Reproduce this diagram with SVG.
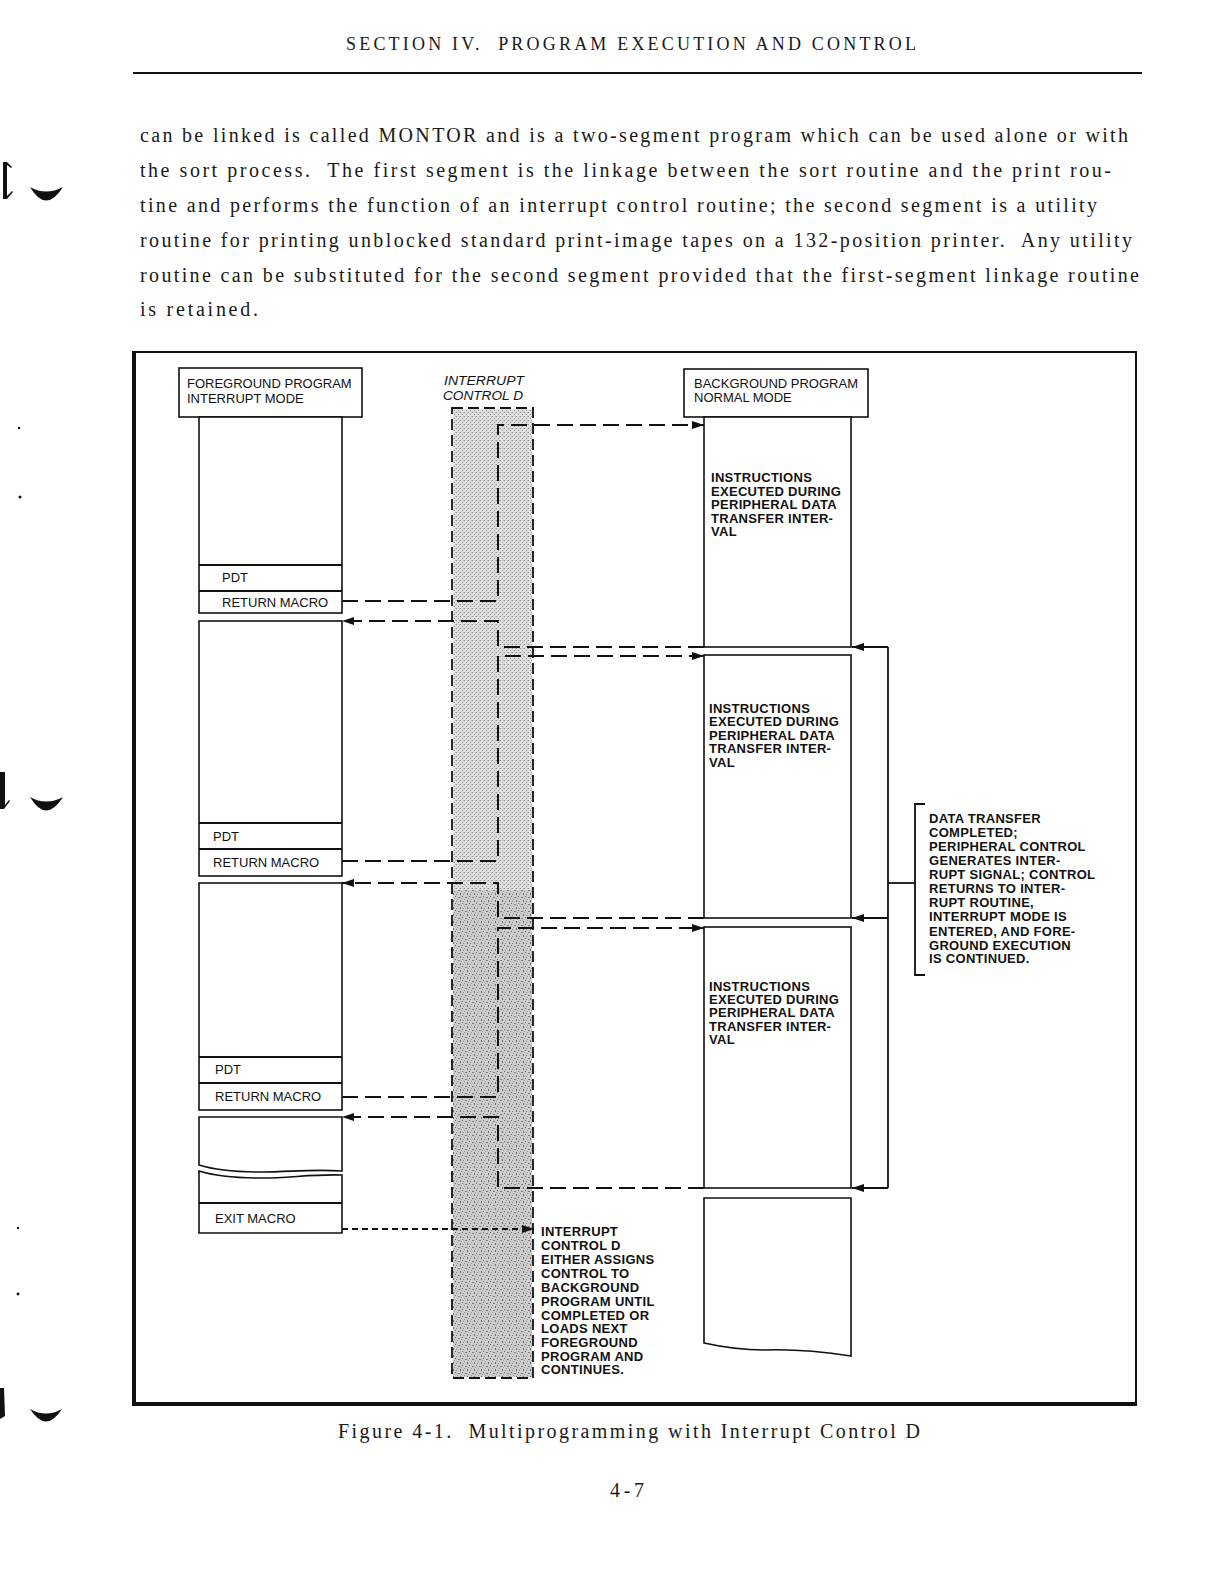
<svg xmlns="http://www.w3.org/2000/svg" width="1226" height="1588" viewBox="0 0 1226 1588">
<style>
.serif{font-family:"Liberation Serif","Times New Roman",serif;fill:#1a1a1a}
.body{font-size:20px}
.sans{font-family:"Liberation Sans",Arial,sans-serif;fill:#111}
.hdr{font-size:13px}
.lbl{font-size:13px}
.note{font-size:13px;font-weight:bold;letter-spacing:0.3px}
.ital{font-size:13px;font-style:italic}
.box{fill:#fff;stroke:#111;stroke-width:1.6}
.conn{fill:none;stroke:#111;stroke-width:2;stroke-dasharray:16 7}
.short{fill:none;stroke:#111;stroke-width:1.8;stroke-dasharray:6 4}
.solid{fill:none;stroke:#111;stroke-width:1.8}
.ibox{fill:none;stroke:#111;stroke-width:1.8;stroke-dasharray:11 5}
.mark{fill:#111}
</style>
<defs>
<marker id="ah" viewBox="0 0 12 8" refX="12" refY="4" markerWidth="12" markerHeight="8" markerUnits="userSpaceOnUse" orient="auto">
<path d="M0,0 L12,4 L0,8 z" fill="#111"/>
</marker>
<pattern id="stip" width="4" height="4" patternUnits="userSpaceOnUse">
<rect width="4" height="4" fill="#e0e0e0"/>
<rect x="0" y="0" width="1" height="1" fill="#8c8c8c"/>
<rect x="2" y="2" width="1" height="1" fill="#8c8c8c"/>
<rect x="3" y="0" width="1" height="1" fill="#b5b5b5"/>
</pattern>
<pattern id="stip2" width="7" height="7" patternUnits="userSpaceOnUse">
<rect width="7" height="7" fill="#cdcdcd"/>
<rect x="0" y="0" width="1" height="1" fill="#666"/>
<rect x="3" y="1" width="2" height="1" fill="#7a7a7a"/>
<rect x="5" y="4" width="1" height="2" fill="#6a6a6a"/>
<rect x="1" y="5" width="1" height="1" fill="#888"/>
<rect x="2" y="3" width="1" height="1" fill="#999"/>
<rect x="6" y="2" width="1" height="1" fill="#9a9a9a"/>
</pattern>
</defs>
<rect width="1226" height="1588" fill="#fff"/>

<!-- page header -->
<g id="page-header">
<text class="serif" x="346" y="50" font-size="18" textLength="570" lengthAdjust="spacing" xml:space="preserve">SECTION IV.  PROGRAM EXECUTION AND CONTROL</text>
<line x1="133" y1="73" x2="1142" y2="73" stroke="#111" stroke-width="2.2"/>
</g>

<!-- body paragraph -->
<g id="body-text" class="serif body">
<text x="140" y="142" textLength="988" lengthAdjust="spacing">can be linked is called MONTOR and is a two-segment program which can be used alone or with</text>
<text x="140" y="177" textLength="971" lengthAdjust="spacing" xml:space="preserve">the sort process.  The first segment is the linkage between the sort routine and the print rou-</text>
<text x="140" y="212" textLength="957" lengthAdjust="spacing">tine and performs the function of an interrupt control routine; the second segment is a utility</text>
<text x="140" y="247" textLength="992" lengthAdjust="spacing" xml:space="preserve">routine for printing unblocked standard print-image tapes on a 132-position printer.  Any utility</text>
<text x="140" y="282" textLength="999" lengthAdjust="spacing">routine can be substituted for the second segment provided that the first-segment linkage routine</text>
<text x="140" y="316" textLength="118" lengthAdjust="spacing">is retained.</text>
</g>

<!-- left margin binder marks -->
<g id="margin-marks">
<path class="mark" d="M3,162 L7,162 L12,167 L11,168 L7,165 L7,196 L12,191 L13,192 L7,199 L3,199 Z"/>
<path class="mark" d="M30,187 Q46,214 63,187 Q46,196 30,187 Z"/>
<path class="mark" d="M0,772 L5,772 L5,805 L9,800 L10,801 L4,809 L0,809 Z"/>
<path class="mark" d="M30,797 Q46,824 63,797 Q46,806 30,797 Z"/>
<path class="mark" d="M0,1388 L4,1388 L5,1416 L0,1419 Z"/>
<path class="mark" d="M30,1409 Q46,1434 62,1409 Q46,1418 30,1409 Z"/>
<circle class="mark" cx="19" cy="428" r="1.2"/>
<circle class="mark" cx="20" cy="497" r="1.5"/>
<circle class="mark" cx="18" cy="1228" r="1.2"/>
<circle class="mark" cx="18" cy="1294" r="1.4"/>
</g>

<!-- figure frame -->
<g id="frame">
<rect x="134" y="352" width="1002" height="1052" fill="none" stroke="#111" stroke-width="2"/>
<line x1="134" y1="351" x2="134" y2="1406" stroke="#111" stroke-width="4"/>
<line x1="132" y1="1404" x2="1137" y2="1404" stroke="#111" stroke-width="4"/>
</g>

<!-- interrupt control D column -->
<g id="interrupt-control">
<rect x="453" y="409" width="79" height="968" fill="url(#stip)"/>
<rect x="453" y="890" width="79" height="487" fill="url(#stip2)"/>
<rect class="ibox" x="452" y="408" width="81" height="970"/>
<text class="sans ital" x="444" y="385" textLength="80" lengthAdjust="spacingAndGlyphs">INTERRUPT</text>
<text class="sans ital" x="443" y="400" textLength="80" lengthAdjust="spacingAndGlyphs">CONTROL D</text>
</g>

<!-- foreground program -->
<g id="fg-header">
<rect class="box" x="179" y="368" width="183" height="49"/>
<text class="sans hdr" x="187" y="388">FOREGROUND PROGRAM</text>
<text class="sans hdr" x="187" y="403">INTERRUPT MODE</text>
</g>
<g id="fg-block-1">
<rect class="box" x="199" y="417" width="143" height="196"/>
<line class="solid" x1="199" y1="565" x2="342" y2="565"/>
<line class="solid" x1="199" y1="591" x2="342" y2="591"/>
<text class="sans lbl" x="222" y="582">PDT</text>
<text class="sans lbl" x="222" y="607">RETURN MACRO</text>
</g>
<g id="fg-block-2">
<rect class="box" x="199" y="621" width="143" height="255"/>
<line class="solid" x1="199" y1="823" x2="342" y2="823"/>
<line class="solid" x1="199" y1="849" x2="342" y2="849"/>
<text class="sans lbl" x="213" y="841">PDT</text>
<text class="sans lbl" x="213" y="867">RETURN MACRO</text>
</g>
<g id="fg-block-3">
<rect class="box" x="199" y="883" width="143" height="227"/>
<line class="solid" x1="199" y1="1057" x2="342" y2="1057"/>
<line class="solid" x1="199" y1="1083" x2="342" y2="1083"/>
<text class="sans lbl" x="215" y="1074">PDT</text>
<text class="sans lbl" x="215" y="1101">RETURN MACRO</text>
</g>
<g id="fg-block-4">
<path class="box" d="M199,1165 V1117 H342 V1171 C310,1169 290,1172 262,1172 C235,1172 215,1170 199,1165 Z"/>
<path class="box" d="M199,1171 C215,1176 238,1178 262,1178 C290,1178 312,1174 342,1175 V1233 H199 Z"/>
<line class="solid" x1="199" y1="1203" x2="342" y2="1203"/>
<text class="sans lbl" x="215" y="1223">EXIT MACRO</text>
</g>

<!-- background program -->
<g id="bg-header">
<rect class="box" x="684" y="369" width="184" height="48"/>
<text class="sans hdr" x="694" y="388">BACKGROUND PROGRAM</text>
<text class="sans hdr" x="694" y="402">NORMAL MODE</text>
</g>
<g id="bg-block-1">
<rect class="box" x="704" y="417" width="147" height="230"/>
<text class="sans note" x="711" y="482">INSTRUCTIONS</text>
<text class="sans note" x="711" y="496">EXECUTED DURING</text>
<text class="sans note" x="711" y="509">PERIPHERAL DATA</text>
<text class="sans note" x="711" y="523">TRANSFER INTER-</text>
<text class="sans note" x="711" y="536">VAL</text>
</g>
<g id="bg-block-2">
<rect class="box" x="704" y="655" width="147" height="263"/>
<text class="sans note" x="709" y="713">INSTRUCTIONS</text>
<text class="sans note" x="709" y="726">EXECUTED DURING</text>
<text class="sans note" x="709" y="740">PERIPHERAL DATA</text>
<text class="sans note" x="709" y="753">TRANSFER INTER-</text>
<text class="sans note" x="709" y="767">VAL</text>
</g>
<g id="bg-block-3">
<rect class="box" x="704" y="927" width="147" height="261"/>
<text class="sans note" x="709" y="991">INSTRUCTIONS</text>
<text class="sans note" x="709" y="1004">EXECUTED DURING</text>
<text class="sans note" x="709" y="1017">PERIPHERAL DATA</text>
<text class="sans note" x="709" y="1031">TRANSFER INTER-</text>
<text class="sans note" x="709" y="1044">VAL</text>
</g>
<g id="bg-block-4">
<path class="box" d="M704,1343 V1198 H851 V1356 C825,1352 795,1349 765,1350 C742,1350 722,1347 704,1343 Z"/>
</g>

<!-- annotations -->
<g id="note-interrupt" class="sans note">
<text x="929" y="823">DATA TRANSFER</text>
<text x="929" y="837">COMPLETED;</text>
<text x="929" y="851">PERIPHERAL CONTROL</text>
<text x="929" y="865">GENERATES INTER-</text>
<text x="929" y="879">RUPT SIGNAL; CONTROL</text>
<text x="929" y="893">RETURNS TO INTER-</text>
<text x="929" y="907">RUPT ROUTINE,</text>
<text x="929" y="921">INTERRUPT MODE IS</text>
<text x="929" y="936">ENTERED, AND FORE-</text>
<text x="929" y="950">GROUND EXECUTION</text>
<text x="929" y="963">IS CONTINUED.</text>
</g>
<g id="note-exit" class="sans note">
<text x="541" y="1236">INTERRUPT</text>
<text x="541" y="1250">CONTROL D</text>
<text x="541" y="1264">EITHER ASSIGNS</text>
<text x="541" y="1278">CONTROL TO</text>
<text x="541" y="1292">BACKGROUND</text>
<text x="541" y="1306">PROGRAM UNTIL</text>
<text x="541" y="1320">COMPLETED OR</text>
<text x="541" y="1333">LOADS NEXT</text>
<text x="541" y="1347">FOREGROUND</text>
<text x="541" y="1361">PROGRAM AND</text>
<text x="541" y="1374">CONTINUES.</text>
</g>

<!-- connectors -->
<g id="connectors">
<path class="conn" d="M342,601 H498 V425 H704" marker-end="url(#ah)"/>
<path class="conn" d="M704,647 H498 V621 H342" marker-end="url(#ah)"/>
<path class="conn" d="M342,861 H498 V656 H704" marker-end="url(#ah)"/>
<path class="conn" d="M704,918 H498 V883 H342" marker-end="url(#ah)"/>
<path class="conn" d="M342,1097 H498 V928 H704" marker-end="url(#ah)"/>
<path class="conn" d="M704,1188 H498 V1117 H342" marker-end="url(#ah)"/>
<path class="short" d="M342,1229 H534" marker-end="url(#ah)"/>
<path class="solid" d="M888,647 V1188"/>
<path class="solid" d="M888,647 H852" marker-end="url(#ah)"/>
<path class="solid" d="M888,918 H852" marker-end="url(#ah)"/>
<path class="solid" d="M888,1188 H852" marker-end="url(#ah)"/>
<path class="solid" d="M888,883 H915"/>
<path class="solid" d="M925,804 H915 V975 H925"/>
</g>

<!-- caption -->
<g id="caption">
<text class="serif" x="338" y="1438" font-size="20" textLength="582" lengthAdjust="spacing" xml:space="preserve">Figure 4-1.  Multiprogramming with Interrupt Control D</text>
<text class="serif" x="610" y="1497" font-size="20" textLength="34" lengthAdjust="spacing">4-7</text>
</g>
</svg>
